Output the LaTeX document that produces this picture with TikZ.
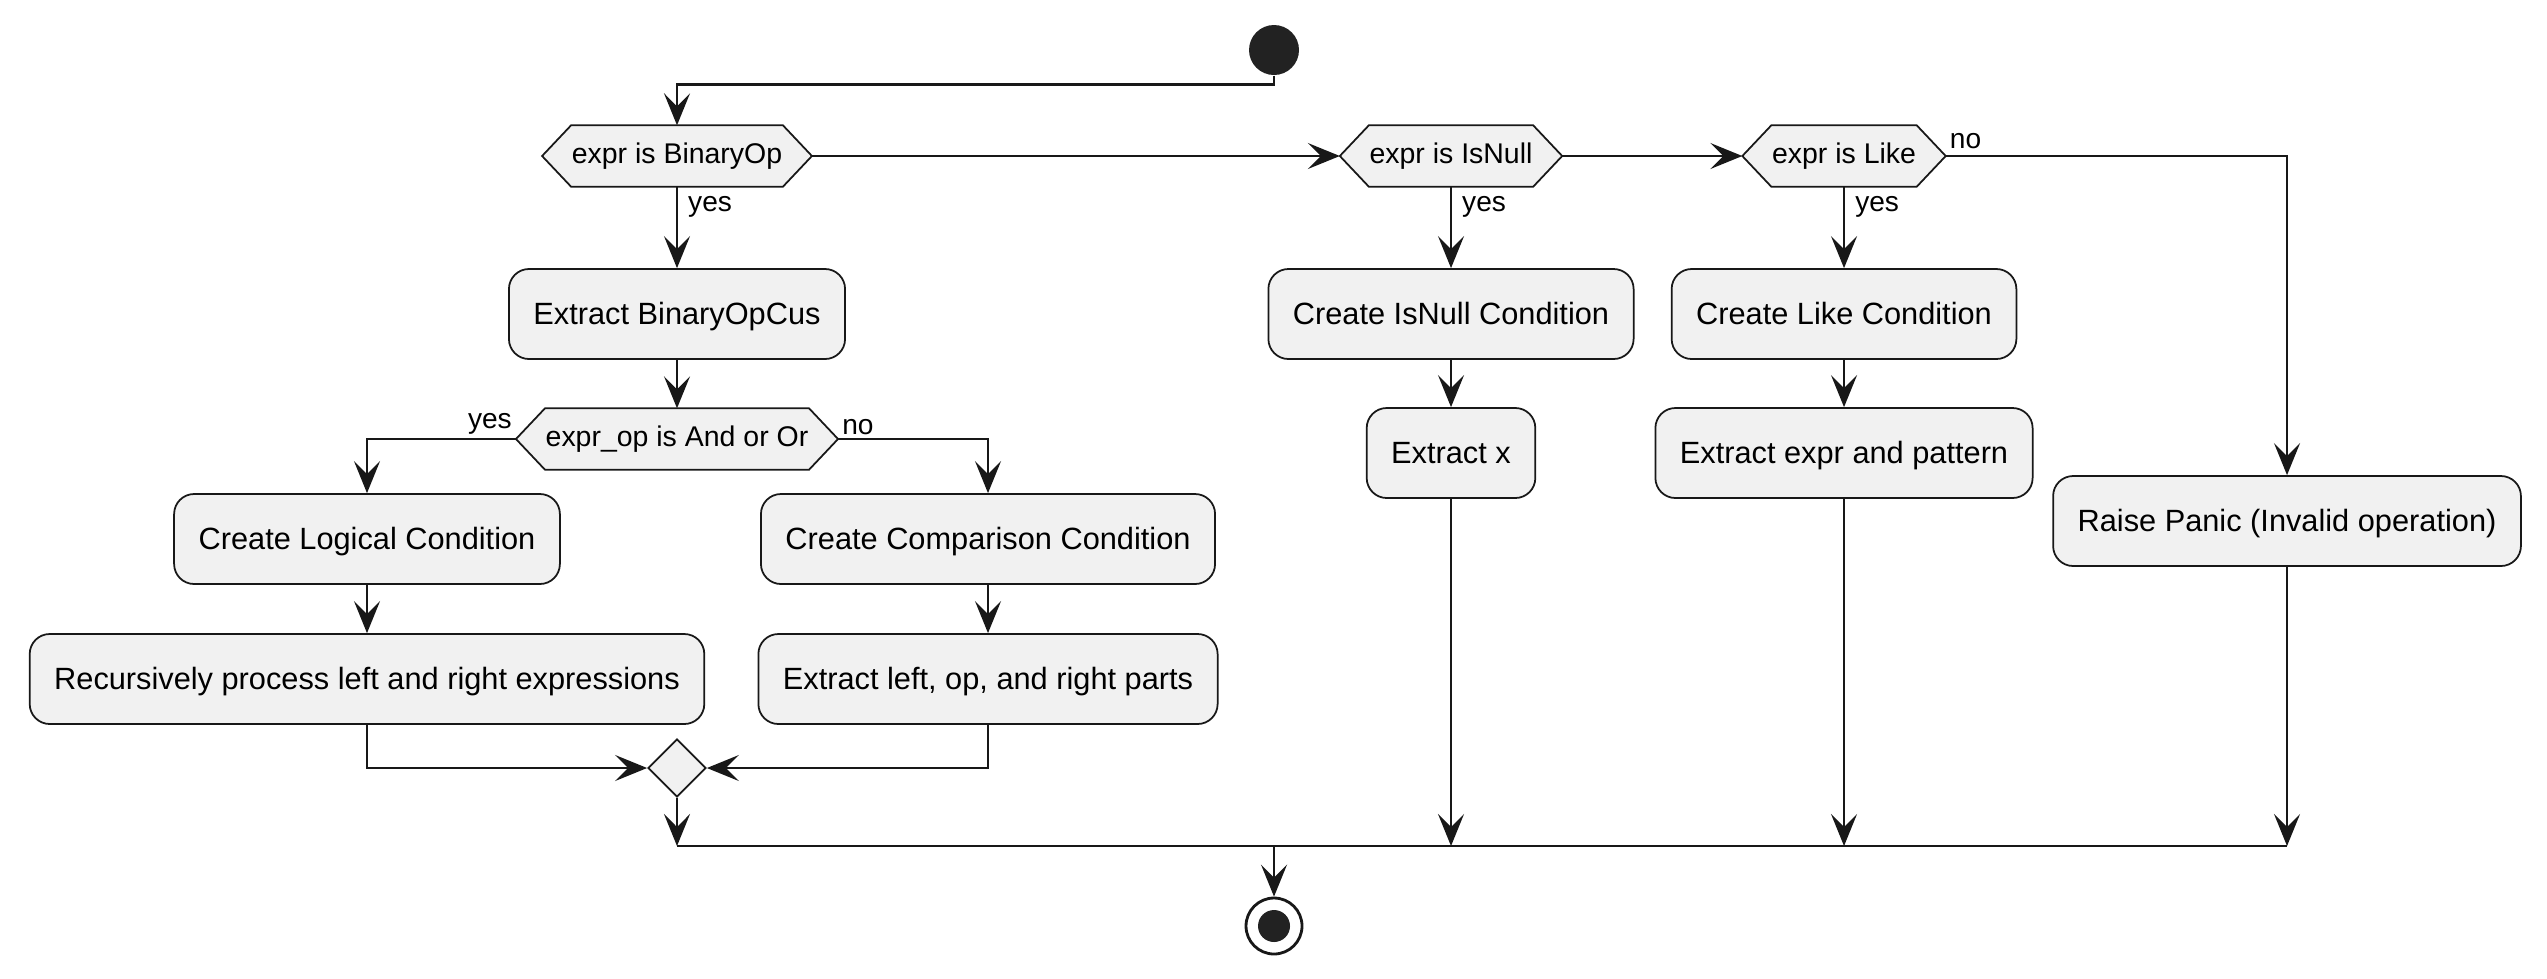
\documentclass[tikz,border=0pt]{standalone}
\usepackage{fontspec}
\setmainfont{Liberation Sans}
\usetikzlibrary{positioning,calc,arrows.meta,shapes.geometric,backgrounds}

\definecolor{actfill}{HTML}{F1F1F1}
\definecolor{actline}{HTML}{181818}
\definecolor{dotfill}{HTML}{222222}

\begin{document}
\begin{tikzpicture}[
    >={Stealth[length=3.2mm,width=2.6mm,inset=1.3mm]},
    flow/.style={->, line width=0.7pt, actline},
    wire/.style={line width=0.7pt, actline},
    action/.style={draw=actline, fill=actfill, line width=0.5pt, rounded corners=2mm,
      minimum height=9mm, inner xsep=2.45mm, text height=8pt, text depth=2pt,
      font=\fontsize{8.75}{10}\selectfont},
    test/.style={inner xsep=2.9mm, inner ysep=0pt, minimum height=6mm, font=\fontsize{8.1}{9.6}\selectfont},
    guard/.style={inner sep=1pt, font=\fontsize{8}{9.6}\selectfont},
  ]
  \useasboundingbox (0,0) rectangle (25.47,-9.78);

  \node[circle, fill=dotfill, minimum size=5mm, inner sep=0pt] (start) at (12.74,-0.50) {};
  \coordinate (split) at (12.74,-0.845);

  % the three tests on the top row
  \node[test] (isbin) at (6.77,-1.56) {expr is BinaryOp};
  \node[test] (isnull) at (14.51,-1.56) {expr is IsNull};
  \node[test] (islike) at (18.44,-1.56) {expr is Like};

  % BinaryOp branch
  \node[action] (binop) at (6.77,-3.14) {Extract BinaryOpCus};
  \node[test] (isop) at (6.77,-4.39) {expr\_op is And or Or};
  \node[action] (logic) at (3.67,-5.39) {Create Logical Condition};
  \node[action] (compare) at (9.88,-5.39) {Create Comparison Condition};
  \node[action] (recurse) at (3.67,-6.79) {Recursively process left and right expressions};
  \node[action] (parts) at (9.88,-6.79) {Extract left, op, and right parts};
  \node[diamond, draw=actline, fill=actfill, line width=0.5pt, minimum size=5.8mm, inner sep=0pt] (merge) at (6.77,-7.68) {};

  % IsNull and Like branches
  \node[action] (nullcond) at (14.51,-3.14) {Create IsNull Condition};
  \node[action] (getx) at (14.51,-4.53) {Extract x};
  \node[action] (likecond) at (18.44,-3.14) {Create Like Condition};
  \node[action] (pattern) at (18.44,-4.53) {Extract expr and pattern};
  \node[action] (panic) at (22.87,-5.21) {Raise Panic (Invalid operation)};

  \coordinate (join) at (12.74,-8.46);
  \node[circle, draw=actline, line width=0.8pt, fill=white, minimum size=5.6mm, inner sep=0pt] (stop) at (12.74,-9.26) {};
  \node[circle, fill=dotfill, minimum size=3.2mm, inner sep=0pt] (stopdot) at (stop) {};

  % hexagon outlines behind the test texts
  \begin{scope}[on background layer]
    \foreach \h in {isbin,isnull,islike,isop}
      \draw[draw=actline, fill=actfill, line width=0.5pt]
        (\h.west) -- ($(\h.north west)+(0.29,0)$) -- ($(\h.north east)-(0.29,0)$) -- (\h.east)
        -- ($(\h.south east)-(0.29,0)$) -- ($(\h.south west)+(0.29,0)$) -- cycle;
  \end{scope}

  \node[guard, below right=0.5mm and 0.7mm of isbin.south] (binyes) {yes};
  \node[guard, below right=0.5mm and 0.7mm of isnull.south] (nullyes) {yes};
  \node[guard, below right=0.5mm and 0.7mm of islike.south] (likeyes) {yes};
  \node[guard, above right=0.3mm and 0pt of islike.east] (likeno) {no};
  \node[guard, above left=0pt and 0pt of isop.west] (opyes) {yes};
  \node[guard, above right=0pt and 0pt of isop.east] (opno) {no};

  \draw[flow] (start) -- (split) -| (isbin.north);
  \draw[flow] (isbin) -- (isnull);
  \draw[flow] (isnull) -- (islike);
  \draw[flow] (islike.east) -| (panic.north);

  \draw[flow] (isbin) -- (binop);
  \draw[flow] (binop) -- (isop);
  \draw[flow] (isop.west) -| (logic.north);
  \draw[flow] (isop.east) -| (compare.north);
  \draw[flow] (logic) -- (recurse);
  \draw[flow] (compare) -- (parts);
  \draw[flow] (recurse.south) |- (merge.west);
  \draw[flow] (parts.south) |- (merge.east);
  \draw[flow] (merge.south) -- (merge |- join);

  \draw[flow] (isnull) -- (nullcond);
  \draw[flow] (nullcond) -- (getx);
  \draw[flow] (getx.south) -- (getx |- join);
  \draw[flow] (islike) -- (likecond);
  \draw[flow] (likecond) -- (pattern);
  \draw[flow] (pattern.south) -- (pattern |- join);
  \draw[flow] (panic.south) -- (panic |- join);

  \draw[wire] (merge |- join) -- (panic |- join);
  \draw[flow] (join) -- (stop);
\end{tikzpicture}
\end{document}
